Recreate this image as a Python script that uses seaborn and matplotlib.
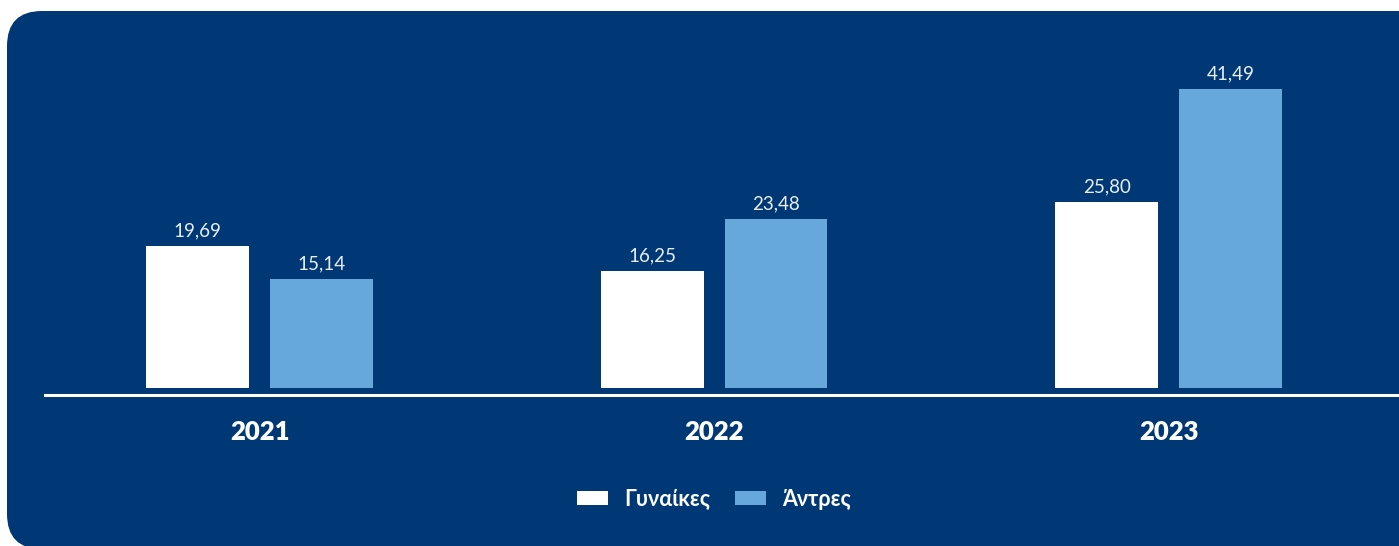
import matplotlib
matplotlib.use("Agg")
import matplotlib.pyplot as plt
import matplotlib.transforms as mtransforms
from matplotlib.patches import FancyBboxPatch
import seaborn as sns
import pandas as pd

# Δεδομένα
years = ["2021", "2022", "2023"]
genders = ["Γυναίκες", "Άντρες"]
women = [19.69, 16.25, 25.80]
men = [15.14, 23.48, 41.49]

panel_color = "#003876"
colors = {"Γυναίκες": "#ffffff", "Άντρες": "#66a8dc"}

df = pd.DataFrame({
    "year": years * 2,
    "gender": [genders[0]] * 3 + [genders[1]] * 3,
    "value": women + men,
})

sns.set_theme(style="white")
plt.rcParams["font.family"] = ["Lato", "Noto Sans", "DejaVu Sans"]

W, H = 1399, 546
fig = plt.figure(figsize=(W / 100, H / 100), dpi=100)
fig.patch.set_facecolor("white")

# rounded dark blue panel (pixel coordinates)
panel = FancyBboxPatch((7, -3), 1500, 538, boxstyle="round,pad=0,rounding_size=35",
                       transform=mtransforms.IdentityTransform(),
                       facecolor=panel_color, edgecolor="none", zorder=-10)
fig.add_artist(panel)

scale = 7.2  # px per unit
ax = fig.add_axes([45 / W, 1 - 395 / H, 1 - 45 / W, (395 - 20) / H])
ax.set_facecolor("none")

sns.barplot(data=df, x="year", y="value", hue="gender", palette=colors,
            saturation=1, width=0.545, gap=0.17, linewidth=0, ax=ax, legend=True)

ax.set_xlim(-0.472, 2.507)
ax.set_ylim(-7 / scale, -7 / scale + 375 / scale)

for c in ax.containers:
    ax.bar_label(c, labels=[f"{v:.2f}".replace(".", ",") for v in c.datavalues],
                 padding=5, color="#e8eef6", fontsize=13.5)

for s in ["top", "left", "right"]:
    ax.spines[s].set_visible(False)
ax.spines["bottom"].set_color("white")
ax.spines["bottom"].set_linewidth(2.2)
ax.set_yticks([])
ax.set_xlabel("")
ax.set_ylabel("")
ax.tick_params(axis="x", length=0, pad=18, colors="white")
for t in ax.get_xticklabels():
    t.set_fontsize(18.5)
    t.set_fontweight("heavy")
    t.set_color("white")

handles, labels = ax.get_legend_handles_labels()
for h in handles:
    h.set_edgecolor("none")
ax.legend(handles, labels, loc="center", bbox_to_anchor=(714 / W, 1 - 499 / H),
          bbox_transform=fig.transFigure, ncol=2, frameon=False,
          handlelength=1.45, handleheight=0.6, handletextpad=0.75, columnspacing=1.15,
          prop={"size": 15.5, "weight": "bold"}, labelcolor="white")

fig.savefig("out.png", dpi=100)
